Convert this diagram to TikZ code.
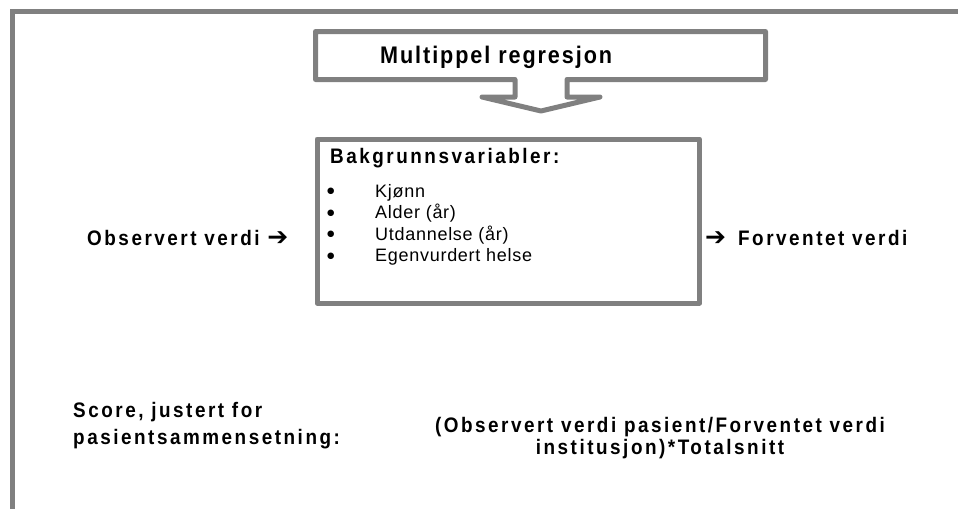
\documentclass[tikz,border=0pt]{standalone}
\usepackage{fontspec}
\setmainfont{Liberation Sans}
\newfontfamily\spacedfont[LetterSpace=12,FakeStretch=0.9]{Liberation Sans}
\newfontfamily\titlefont[LetterSpace=8,FakeStretch=0.9]{Liberation Sans}
\newfontfamily\itemfont[LetterSpace=4]{Liberation Sans}
\newfontfamily\arrowfont{DejaVu Sans}

\definecolor{framegray}{HTML}{808080}
\newcommand{\boldtxt}{\spacedfont\bfseries\fontsize{21}{27}\selectfont}
\newcommand{\itemtxt}{\itemfont\fontsize{18}{21.5}\selectfont}
\newcommand{\warrow}{{\arrowfont\bfseries\fontsize{25}{25}\selectfont ➔}}
\newcommand{\bigbullet}{\raisebox{3.2pt}{\arrowfont\fontsize{8.5}{8.5}\selectfont ●}}

\tikzset{
  grayline/.style={draw=framegray, line width=5pt, line join=round},
  lbl/.style={inner sep=0pt, anchor=base west, font=\boldtxt},
  itm/.style={inner sep=0pt, anchor=base west, font=\itemtxt}
}

\begin{document}
\begin{tikzpicture}[x=1pt,y=-1pt]
  \useasboundingbox (0,0) rectangle (958,509);

  % page frame (cut off right and bottom)
  \draw[grayline, line width=5.5pt, line join=miter] (958,11.7) -- (12.3,11.7) -- (12.3,509);

  % regression box with down arrow
  \draw[grayline, fill=white] (315.5,31.5) -- (765.5,31.5) -- (765.5,79.5) -- (567,79.5)
    -- (567,97) -- (600,97) -- (541,111) -- (482,97) -- (515,97) -- (515,79.5)
    -- (315.5,79.5) -- cycle;
  \node[lbl, font=\titlefont\bfseries\fontsize{24}{28}\selectfont] (regr) at (380,63) {Multippel regresjon};

  % background variables
  \node[grayline, inner sep=0pt, minimum width=382.5, minimum height=164,
        anchor=north west] (bakgr) at (314.5,136.5) {};
  \node[lbl] (bakgrtitle) at (330,163) {Bakgrunnsvariabler:};
  \foreach \y/\txt [count=\i] in {197/Kjønn, 218.5/Alder (år), 240/Utdannelse (år), 261.5/Egenvurdert helse} {
    \node[itm] (item\i) at (327,\y) {\makebox[48pt][l]{\bigbullet}\txt};
  }

  % observed and expected
  \node[lbl] (obs) at (87,245) {Observert verdi \warrow};
  \node[lbl] (forv) at (705,245) {\warrow\hspace{12pt}Forventet verdi};

  % adjusted score
  \node[lbl, align=left] (score) at (73,444) {Score, justert for\\pasientsammensetning:};
  \node[lbl, align=center, anchor=base, font=\boldtxt\fontsize{21}{22}\selectfont] (formel) at (660,454)
    {(Observert verdi pasient/Forventet verdi\\institusjon)*Totalsnitt};
\end{tikzpicture}
\end{document}
